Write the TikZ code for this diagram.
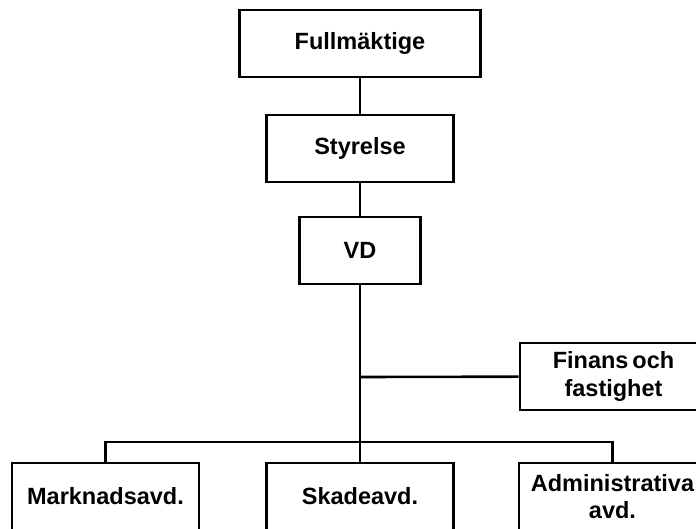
\documentclass[tikz,border=0pt]{standalone}
\usepackage{fontspec}
\setmainfont{Liberation Sans}

\begin{document}
\begin{tikzpicture}[x=1pt,y=-1pt]
  \tikzset{unit/.style = {shape=rectangle,draw,line width=2.7pt,minimum height=67pt,inner sep=2pt,align=center,font=\fontsize{23.5}{27.5}\selectfont\bfseries}}
  \tikzset{link/.style = {line width=2.6pt}}

  \useasboundingbox (0,0) rectangle (696,529);
  \clip (0,0) rectangle (696,529);

	\node[unit,minimum width=241pt] (F) at (360,43.5) {Fullmäktige};
	\node[unit,minimum width=187pt] (S) at (360,148.5) {Styrelse};
	\node[unit,minimum width=121pt] (VD) at (360,250.5) {VD};
	\node[unit,minimum width=187pt] (FO) at (613.5,376.5) {Finans\,och\\fastighet};
	\node[unit,minimum width=187pt] (M) at (105.5,496.5) {Marknadsavd.};
	\node[unit,minimum width=187pt] (Sk) at (360,496.5) {Skadeavd.};
	\node[unit,minimum width=187pt] (A) at (612.5,496.5) {Administrativa\\avd.};

	\coordinate (J1) at (360,377);
	\coordinate (J2) at (360,442);

       \foreach \from/\to in {F/S,S/VD}
    \draw[link] (\from) -- (\to);
	\draw[link] (VD) -- (J2) -- (Sk);
	\draw[link] (J1) -- (FO);
	\draw[link] (M.north) |- (J2) -| (A.north);
\end{tikzpicture}
\end{document}
